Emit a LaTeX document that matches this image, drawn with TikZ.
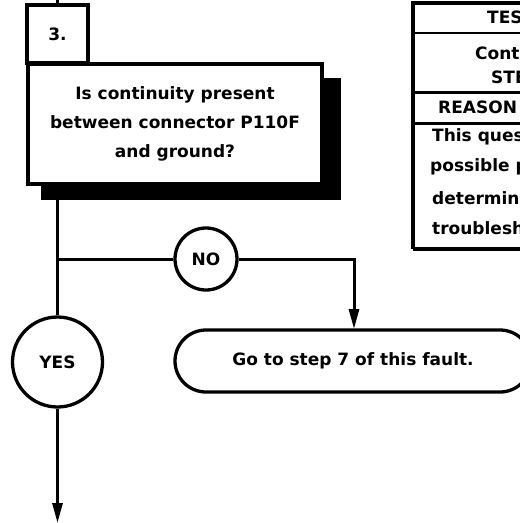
\documentclass[tikz,border=0pt]{standalone}
\usepackage{fontspec}
\setmainfont{DejaVu Sans}
\usetikzlibrary{arrows.meta}
\begin{document}
\begin{tikzpicture}[x=1pt,y=-1pt,
  lbl/.style={font=\bfseries\fontsize{17}{29}\selectfont},
  boxline/.style={line width=3.3pt},
  flow/.style={line width=3pt},
  tip/.style={-{Triangle[length=20pt,width=10pt]}},
  ring/.style={circle, draw, line width=3.3pt, inner sep=0pt, lbl},
  cell/.style={lbl, anchor=west, inner sep=0pt},
]
\useasboundingbox (0,0) rectangle (520,523);
\clip (0,0) rectangle (520,523);

% step number box
\coordinate (top) at (57.5,0);
\node[draw, boxline, fill=white, minimum width=61pt, minimum height=58pt, lbl] (num) at (57.5,34) {3.};
\draw[flow] (top) -- (num.north);

% question box with its drop shadow
\fill (41,78) rectangle (341,200);
\node[draw, boxline, fill=white, minimum width=294pt, minimum height=120pt,
      align=center, lbl] (q) at (175,124)
  {Is continuity present\\between connector P110F\\and ground?};

% answer circles
\node[ring, minimum size=90pt] (yes) at (57.5,362) {YES};
\node[ring, minimum size=62pt] (no) at (206,259) {NO};

% terminal box
\node[draw, boxline, rounded corners=31pt, minimum width=356pt, minimum height=62pt, lbl]
  (go) at (353,361) {Go to step 7 of this fault.};

% connectors
\coordinate (qs) at (57.5,200);
\coordinate (br) at (57.5,259);
\coordinate (drop) at (354,329);
\coordinate (end) at (57.5,523);
\draw[flow] (qs) -- (yes.north);
\draw[flow] (br) -- (no.west);
\draw[flow, tip] (no.east) -| (drop);
\draw[flow, tip] (yes.south) -- (end);

% side table
\draw[line width=3.4pt] (413,249) -- (413,3) -- (530,3);
\draw[line width=2.4pt] (413,33) -- (530,33);
\draw[line width=3pt] (413,92) -- (530,92);
\draw[line width=3pt] (413,123) -- (530,123);
\draw[line width=3.4pt] (413,249) -- (530,249);
\node[cell] (t1) at (487,17) {TES};
\node[cell] (t2) at (475,53) {Cont};
\node[cell] (t3) at (491,77) {STE};
\node[cell] (t4) at (438,107) {REASON};
\node[cell] (t5) at (432,137) {This ques};
\node[cell] (t6) at (430,167) {possible p};
\node[cell] (t7) at (432,198) {determine};
\node[cell] (t8) at (432,228) {troublesh};
\end{tikzpicture}
\end{document}
